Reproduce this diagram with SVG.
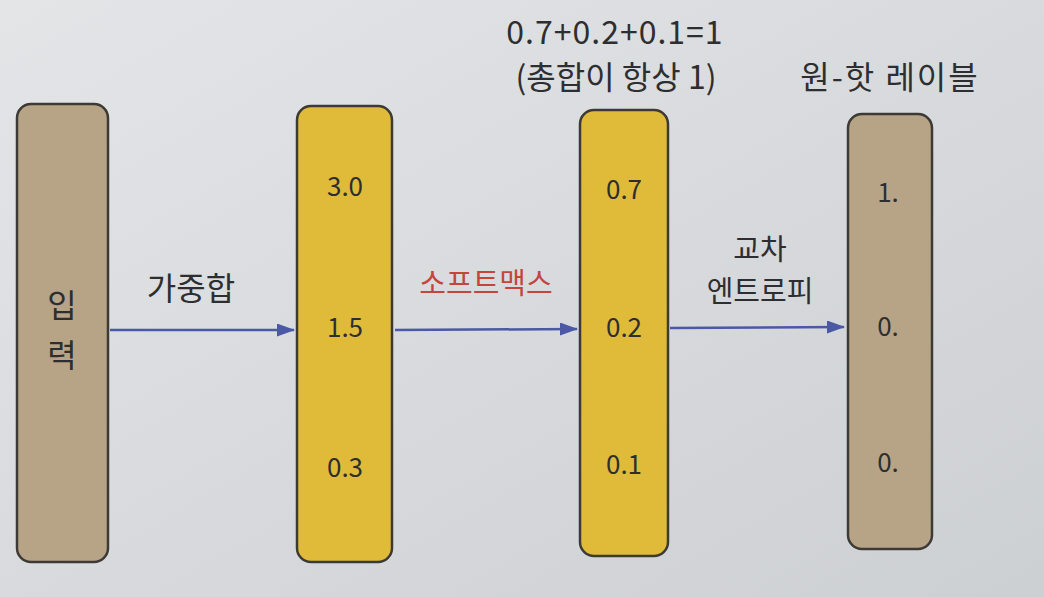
<svg xmlns="http://www.w3.org/2000/svg" width="1044" height="597" viewBox="0 0 1044 597">
<defs>
<linearGradient id="bg" x1="0" y1="0" x2="1" y2="1">
<stop offset="0" stop-color="#e3e5e7"/>
<stop offset="1" stop-color="#cdd0d3"/>
</linearGradient>
<marker id="ah2" markerWidth="18" markerHeight="13" refX="17" refY="6.5" orient="auto" markerUnits="userSpaceOnUse" viewBox="0 0 18 13">
<path d="M0,0 L18,6.5 L0,13 Z" fill="#4a58a6"/>
</marker>
</defs>
<style>
.tan{fill:#b7a487;stroke:#3d3a36;stroke-width:2.5}
.yel{fill:#e0bb3a;stroke:#3d3a36;stroke-width:2.5}
.t{font-family:"Noto Sans CJK KR","Noto Sans",sans-serif;fill:#2e2e30;text-anchor:middle}
.lbl{font-size:29px}
.big{font-size:32px}
.num{font-size:26px}
.red{fill:#c4453c}
.conn{stroke:#4a58a6;stroke-width:2.5;fill:none;marker-end:url(#ah2)}
</style>
<rect width="1044" height="597" fill="url(#bg)"/>
<g id="connectors">
<line class="conn" x1="110" y1="330" x2="294" y2="330"/>
<line class="conn" x1="395" y1="330" x2="577" y2="329"/>
<line class="conn" x1="670" y1="328" x2="844" y2="327"/>
</g>
<g id="input">
<rect class="tan" x="17" y="104" width="91" height="458" rx="14"/>
<text class="t big" x="62" y="317">입</text>
<text class="t big" x="62" y="367">력</text>
</g>
<g id="weighted-sum-label">
<text class="t big" x="191" y="300">가중합</text>
</g>
<g id="logits">
<rect class="yel" x="297" y="106" width="95" height="456" rx="14"/>
<text class="t num" x="345" y="196">3.0</text>
<text class="t num" x="345" y="337">1.5</text>
<text class="t num" x="345" y="477">0.3</text>
</g>
<g id="softmax-label">
<text class="t lbl red" x="486" y="294">소프트맥스</text>
</g>
<g id="probs">
<rect class="yel" x="580" y="110" width="88" height="446" rx="14"/>
<text class="t num" x="624" y="199">0.7</text>
<text class="t num" x="624" y="337">0.2</text>
<text class="t num" x="624" y="474">0.1</text>
<text class="t big" x="615" y="44" letter-spacing="1">0.7+0.2+0.1=1</text>
<text class="t big" x="616" y="89">(총합이 항상 1)</text>
</g>
<g id="cross-entropy-label">
<text class="t lbl" x="760" y="260">교차</text>
<text class="t lbl" x="760" y="302">엔트로피</text>
</g>
<g id="onehot">
<rect class="tan" x="848" y="114" width="84" height="435" rx="14"/>
<text class="t num" x="888" y="202">1.</text>
<text class="t num" x="888" y="336">0.</text>
<text class="t num" x="888" y="472">0.</text>
<text class="t big" x="890" y="89" letter-spacing="2">원-핫 레이블</text>
</g>
</svg>
